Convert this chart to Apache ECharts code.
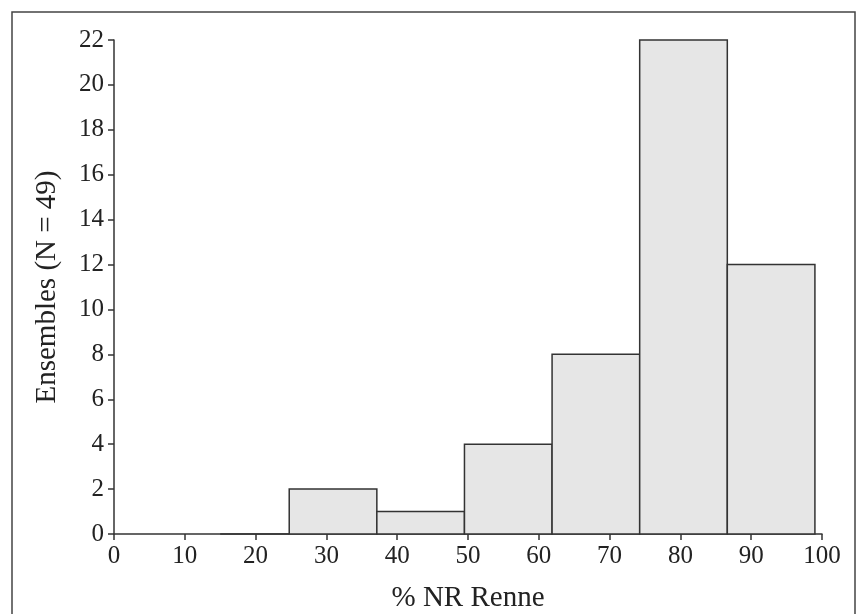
<!DOCTYPE html>
<html>
<head>
<meta charset="utf-8">
<script src="https://cdn.jsdelivr.net/npm/echarts@6/dist/echarts.min.js"></script>
<style>html,body{margin:0;padding:0;background:#fff}#c{width:864px;height:614px}</style>
</head>
<body>
<div id="c"></div>
<script>
// Histogram bins (% NR Renne) and counts
const binStart = [15, 24.75, 37.125, 49.5, 61.875, 74.25, 86.625];
const binEnd   = [24.75, 37.125, 49.5, 61.875, 74.25, 86.625, 99];
const counts   = [0, 2, 1, 4, 8, 22, 12];
const xTicks = [0, 10, 20, 30, 40, 50, 60, 70, 80, 90, 100];
const yTicks = [0, 2, 4, 6, 8, 10, 12, 14, 16, 18, 20, 22];

const data = binStart.map((s, i) => [s, binEnd[i], counts[i]]);
const font = '"Liberation Serif", "DejaVu Serif", serif';

const chart = echarts.init(document.getElementById('c'), null, {renderer: 'canvas'});
chart.setOption({
  animation: false,
  backgroundColor: '#fff',
  graphic: [{
    type: 'rect', shape: {x: 12, y: 12, width: 843, height: 640},
    style: {fill: 'none', stroke: '#444', lineWidth: 1.5}, silent: true
  }],
  grid: {left: 114, right: 42, top: 40, bottom: 80, containLabel: false, outerBoundsMode: 'none'},
  xAxis: {
    type: 'value', min: 0, max: 100, interval: 10,
    name: '% NR Renne', nameLocation: 'middle', nameGap: 50,
    nameTextStyle: {fontFamily: font, fontSize: 29, color: '#222'},
    axisLine: {show: true, onZero: false, lineStyle: {color: '#333', width: 1.5}},
    axisTick: {show: true, length: 6, lineStyle: {color: '#333', width: 1.5}},
    axisLabel: {fontFamily: font, fontSize: 25, color: '#222', margin: 10,
      formatter: v => xTicks.includes(v) ? String(v) : ''},
    splitLine: {show: false}
  },
  yAxis: {
    type: 'value', min: 0, max: 22, interval: 2,
    name: 'Ensembles (N = 49)', nameLocation: 'middle', nameGap: 52, nameRotate: 90,
    nameTextStyle: {fontFamily: font, fontSize: 29, color: '#222'},
    axisLine: {show: true, lineStyle: {color: '#333', width: 1.5}},
    axisTick: {show: true, length: 6, lineStyle: {color: '#333', width: 1.5}},
    axisLabel: {fontFamily: font, fontSize: 25, color: '#222', margin: 10,
      formatter: v => yTicks.includes(v) ? String(v) : ''},
    splitLine: {show: false}
  },
  series: [{
    type: 'custom',
    data: data,
    encode: {x: [0, 1], y: 2},
    renderItem: function (params, api) {
      const p0 = api.coord([api.value(0), 0]);
      const p1 = api.coord([api.value(1), api.value(2)]);
      return {
        type: 'rect',
        shape: {x: p0[0], y: p1[1], width: p1[0] - p0[0], height: p0[1] - p1[1]},
        style: {fill: '#e6e6e6', stroke: '#333', lineWidth: 1.5}
      };
    }
  }]
});
</script>
</body>
</html>
